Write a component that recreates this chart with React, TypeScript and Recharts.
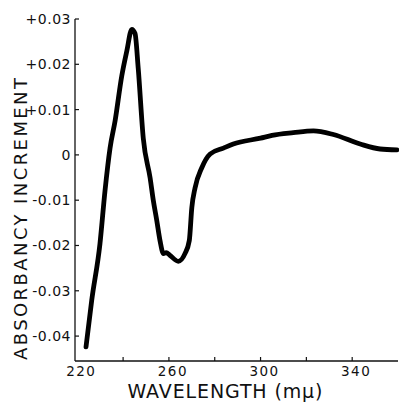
import React from 'react';
import { LineChart, Line, XAxis, YAxis, Label } from 'recharts';

// wavelength (mμ) and absorbancy increment
const wavelength = [
  223.8, 226.3, 229.9, 232.1, 234.3, 236.5, 239.4, 241.6, 243.8, 245.2,
  246.6, 248.8, 251.8, 253.2, 254.7, 256.1, 257.6, 258.8, 260.5, 264.1,
  267.0, 268.9, 270.0, 271.4, 274.3, 278.0, 283.8, 288.1, 300.0, 305.0,
  314.3, 323.1, 331.8, 343.5, 352.2, 359.5,
];
const increment = [
  -0.0424, -0.0321, -0.0196, -0.0079, 0.0015, 0.0075, 0.0174, 0.0229, 0.0277, 0.0268,
  0.0191, 0.0037, -0.0051, -0.0101, -0.0145, -0.0189, -0.0218, -0.0216, -0.0222, -0.0235,
  -0.0218, -0.0189, -0.0116, -0.0073, -0.0029, 0.0002, 0.0015, 0.0024, 0.0037, 0.0043,
  0.0049, 0.0053, 0.0045, 0.0024, 0.0013, 0.0011,
];

const xTicks = [220, 240, 260, 280, 300, 320, 340];
const xLabeled = [220, 260, 300, 340];
const yTicks = [-0.04, -0.03, -0.02, -0.01, 0, 0.01, 0.02, 0.03];
const yTickLabels = ['-0.04', '-0.03', '-0.02', '-0.01', '0', '+0.01', '+0.02', '+0.03'];

const data = wavelength.map((w, i) => ({ w, v: increment[i] }));

const FONT = 'DejaVu Sans';
const INK = '#111';

const XTick = (props: any) => {
  const { x, y, payload } = props;
  const show = xLabeled.includes(payload.value);
  return (
    <g>
      {payload.value !== 220 && (
        <line x1={x} x2={x} y1={y} y2={y - 4} stroke={INK} strokeWidth={1.2} />
      )}
      {show && (
        <text x={x + 4} y={y + 15} textAnchor="middle" fontFamily={FONT} fontSize={13.5} letterSpacing={1.5} fill={INK}>
          {payload.value}
        </text>
      )}
    </g>
  );
};

const YTick = (props: any) => {
  const { x, y, payload } = props;
  const idx = yTicks.indexOf(payload.value);
  return (
    <g>
      <line x1={x} x2={x + 4} y1={y} y2={y} stroke={INK} strokeWidth={1.2} />
      <text x={x - 4} y={y + 5} textAnchor="end" fontFamily={FONT} fontSize={14} letterSpacing={0.5} fill={INK}>
        {yTickLabels[idx]}
      </text>
    </g>
  );
};

const YTitle = () => (
  <text
    transform="translate(27, 219) rotate(-90)"
    textAnchor="middle"
    fontFamily={FONT}
    fontSize={18}
    fill={INK}
    textLength={282}
    lengthAdjust="spacing"
  >
    ABSORBANCY INCREMENT
  </text>
);

const XTitle = () => (
  <text
    x={225}
    y={398}
    textAnchor="middle"
    fontFamily={FONT}
    fontSize={19}
    fill={INK}
    textLength={195}
    lengthAdjust="spacing"
  >
    WAVELENGTH (mμ)
  </text>
);

export default function App() {
  return (
    <div style={{ width: 399, height: 403, background: '#fff' }}>
      <style>{'body{margin:0}'}</style>
      <LineChart width={399} height={403} data={data} margin={{ top: 19, right: 1, bottom: 0, left: 0 }}>
        <XAxis
          dataKey="w"
          type="number"
          domain={[219, 360]}
          ticks={xTicks}
          tick={<XTick />}
          tickLine={false}
          tickSize={0}
          tickMargin={0}
          axisLine={{ stroke: INK, strokeWidth: 1.3 }}
          height={42}
          interval={0}
        >
          <Label content={<XTitle />} />
        </XAxis>
        <YAxis
          type="number"
          domain={[-0.0455, 0.03]}
          ticks={yTicks}
          tick={<YTick />}
          tickLine={false}
          tickSize={0}
          tickMargin={0}
          axisLine={{ stroke: INK, strokeWidth: 1.3 }}
          width={75}
          interval={0}
        >
          <Label content={<YTitle />} />
        </YAxis>
        <Line
          type="monotone"
          dataKey="v"
          stroke="#000"
          strokeWidth={4.8}
          dot={false}
          isAnimationActive={false}
          strokeLinecap="round"
          strokeLinejoin="round"
        />
      </LineChart>
    </div>
  );
}
